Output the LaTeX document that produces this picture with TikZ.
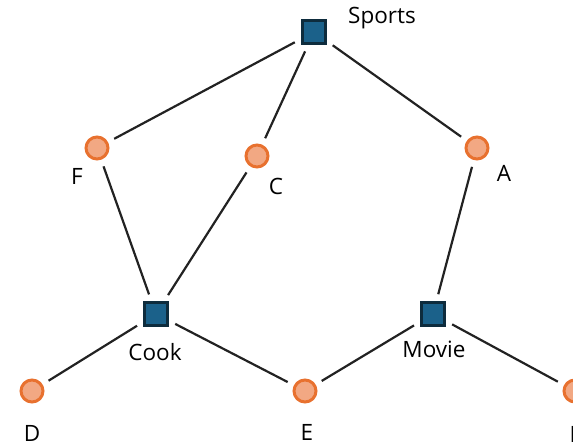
\documentclass[tikz,border=0pt]{standalone}
\usepackage{fontspec}
\setmainfont{Open Sans}
\begin{document}
\begin{tikzpicture}[x=1pt,y=-1pt,
  sq/.style={draw=sqborder,fill=sqfill,line width=3pt,minimum size=23pt,inner sep=0pt,rectangle},
  ci/.style={draw=ciborder,fill=cifill,line width=3pt,circle,minimum size=22pt,inner sep=0pt},
  lbl/.style={font=\fontsize{22.5}{26}\selectfont,text=black,inner sep=0pt},
  edge/.style={draw=linecol,line width=2.2pt,shorten >=7pt,shorten <=7pt}]
\definecolor{sqborder}{HTML}{0E2C3D}
\definecolor{sqfill}{HTML}{1B618A}
\definecolor{ciborder}{HTML}{E8712F}
\definecolor{cifill}{HTML}{F2A883}
\definecolor{linecol}{HTML}{222222}
\useasboundingbox (0,0) rectangle (573,446);
\node[sq] (sports) at (314,32) {};
\node[ci] (f) at (97,148) {};
\node[ci] (c) at (257,156) {};
\node[ci] (a) at (477,148) {};
\node[sq] (cook) at (156,314) {};
\node[sq] (movie) at (433,314) {};
\node[ci] (d) at (32,391) {};
\node[ci] (e) at (305,391) {};
\node[ci] (b) at (575,391) {};
\node[lbl] (lsports) at (382,18) {Sports};
\node[lbl] (lf) at (77,176) {F};
\node[lbl] (lc) at (276,186) {C};
\node[lbl] (la) at (504,173) {A};
\node[lbl] (lcook) at (155,352) {Cook};
\node[lbl] (lmovie) at (434,349) {Movie};
\node[lbl] (ld) at (32,433) {D};
\node[lbl] (le) at (307,432) {E};
\node[lbl] (lb) at (577,434) {B};
\draw[edge] (sports) -- (f);
\draw[edge] (sports) -- (c);
\draw[edge] (sports) -- (a);
\draw[edge] (f) -- (cook);
\draw[edge] (c) -- (cook);
\draw[edge] (a) -- (movie);
\draw[edge] (cook) -- (d);
\draw[edge] (cook) -- (e);
\draw[edge] (movie) -- (e);
\draw[edge] (movie) -- (b);
\end{tikzpicture}
\end{document}
